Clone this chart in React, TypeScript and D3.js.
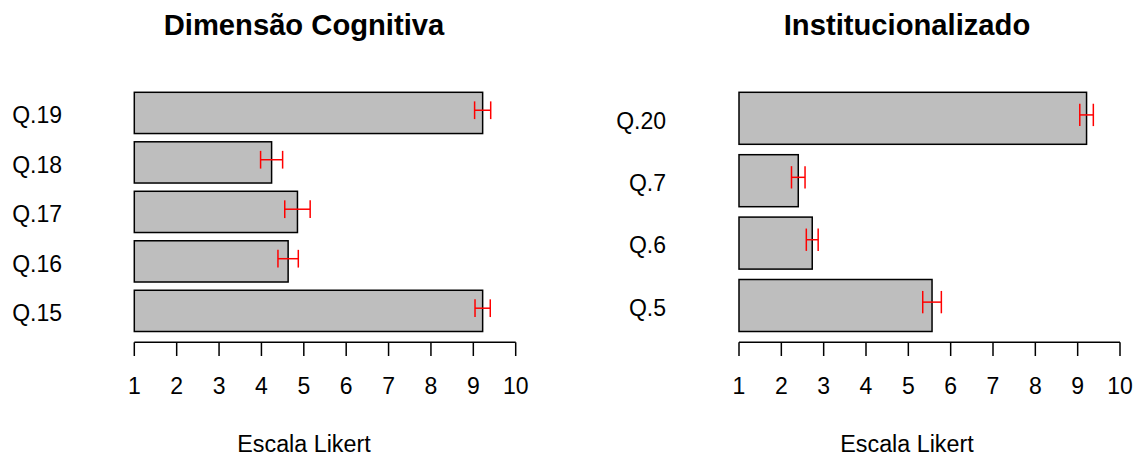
import React from "react";
import * as d3 from "d3";

const leftCategories = ["Q.15", "Q.16", "Q.17", "Q.18", "Q.19"];
const leftMeans = [9.22, 4.63, 4.85, 4.24, 9.22];
const leftErrors = [0.18, 0.24, 0.3, 0.26, 0.19];

const rightCategories = ["Q.5", "Q.6", "Q.7", "Q.20"];
const rightMeans = [5.56, 2.73, 2.4, 9.21];
const rightErrors = [0.22, 0.14, 0.16, 0.16];

const xTicks = [1, 2, 3, 4, 5, 6, 7, 8, 9, 10];
const titles = ["Dimensão Cognitiva", "Institucionalizado"];
const xLabel = "Escala Likert";

const FONT = "'Liberation Sans', Arial, Helvetica, sans-serif";

type PanelProps = {
  title: string;
  cats: string[];
  means: number[];
  errs: number[];
  axisLeft: number;
  axisRight: number;
  textCenter: number;
  labelRight: number;
};

function Panel({ title, cats, means, errs, axisLeft, axisRight, textCenter, labelRight }: PanelProps) {
  const n = cats.length;
  const x = d3.scaleLinear().domain([1, 10]).range([axisLeft, axisRight]);
  const y = d3.scaleLinear().domain([0.2, n * 1.2]).range([331.5, 92.3]);
  const axisY = 342.3;
  return (
    <g>
      <text x={textCenter} y={34.5} textAnchor="middle" fontFamily={FONT} fontWeight="bold" fontSize={29.2} fill="#000">
        {title}
      </text>
      {cats.map((c, i) => {
        const y0 = 0.2 + i * 1.2;
        const y1 = y0 + 1;
        const mid = (y0 + y1) / 2;
        const eMid = mid + 0.065;
        const lo = means[i] - errs[i];
        const hi = means[i] + errs[i];
        return (
          <g key={c}>
            <rect
              x={x(1)}
              y={y(y1)}
              width={x(means[i]) - x(1)}
              height={y(y0) - y(y1)}
              fill="#BEBEBE"
              stroke="#000"
              strokeWidth={1.5}
            />
            <line x1={x(lo)} x2={x(hi)} y1={y(eMid)} y2={y(eMid)} stroke="#FF0000" strokeWidth={1.5} />
            <line x1={x(lo)} x2={x(lo)} y1={y(eMid - 0.215)} y2={y(eMid + 0.215)} stroke="#FF0000" strokeWidth={1.5} />
            <line x1={x(hi)} x2={x(hi)} y1={y(eMid - 0.215)} y2={y(eMid + 0.215)} stroke="#FF0000" strokeWidth={1.5} />
            <text x={labelRight} y={y(mid)} dy="0.45em" textAnchor="end" fontFamily={FONT} fontSize={23} fill="#000">
              {c}
            </text>
          </g>
        );
      })}
      <line x1={x(1)} x2={x(10)} y1={axisY} y2={axisY} stroke="#000" strokeWidth={1.5} />
      {xTicks.map((t) => (
        <g key={t}>
          <line x1={x(t)} x2={x(t)} y1={axisY} y2={axisY + 13.7} stroke="#000" strokeWidth={1.5} />
          <text x={x(t)} y={394.3} textAnchor="middle" fontFamily={FONT} fontSize={23} fill="#000">
            {t}
          </text>
        </g>
      ))}
      <text x={textCenter} y={452} textAnchor="middle" fontFamily={FONT} fontSize={23.3} fill="#000">
        {xLabel}
      </text>
    </g>
  );
}

export default function App() {
  return (
    <svg
      width={1142}
      height={459}
      style={{ position: "absolute", left: 0, top: 0, background: "#fff" }}
    >
      <rect x={0} y={0} width={1142} height={459} fill="#fff" />
      <Panel
        title={titles[0]}
        cats={leftCategories}
        means={leftMeans}
        errs={leftErrors}
        axisLeft={134.3}
        axisRight={515.7}
        textCenter={304}
        labelRight={62}
      />
      <Panel
        title={titles[1]}
        cats={rightCategories}
        means={rightMeans}
        errs={rightErrors}
        axisLeft={739}
        axisRight={1120}
        textCenter={907}
        labelRight={666}
      />
    </svg>
  );
}
